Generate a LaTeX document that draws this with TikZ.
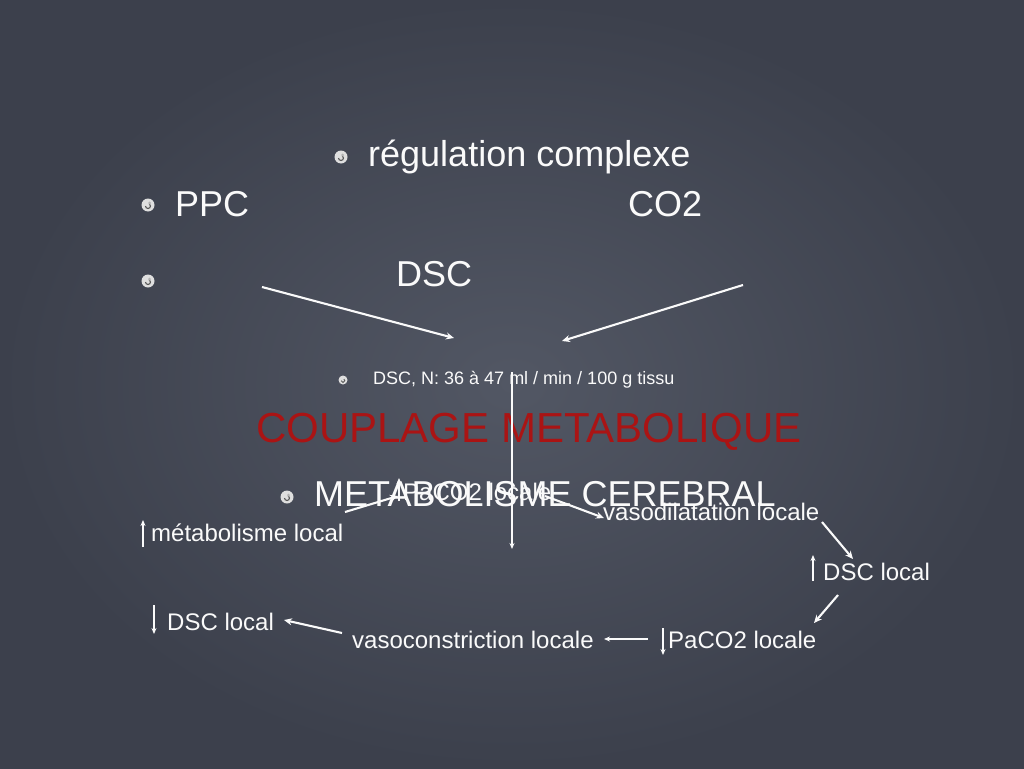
\documentclass[tikz,border=0pt]{standalone}
\usepackage{fontspec}
\setmainfont{Liberation Sans}
\usetikzlibrary{arrows.meta}
\definecolor{bgin}{RGB}{82,87,100}
\definecolor{bgout}{RGB}{60,64,76}
\definecolor{redtxt}{RGB}{170,20,20}
\definecolor{chalk}{RGB}{250,250,250}
\begin{document}
\begin{tikzpicture}[x=1pt,y=-1pt,
  txt/.style={inner sep=0pt, anchor=base west, text=chalk},
  big/.style={font=\fontsize{36}{40}\selectfont},
  mid/.style={font=\fontsize{24}{28}\selectfont},
  small/.style={font=\fontsize{18}{22}\selectfont},
  conn/.style={draw=chalk, line width=2.1pt, -{Stealth[length=8pt,width=7pt]}},
  updown/.style={draw=chalk, line width=1.4pt, -{Stealth[length=6pt,width=5pt]}},
  bul/.pic={\fill[gray!25] (0,0) circle (6.5);
            \draw[gray!70!black, line width=1.1pt] (-2.5,1) arc (180:-60:2.5);
            \fill[gray!60] (1.5,-2) circle (1.5);},
  sbul/.pic={\fill[gray!25] (0,0) circle (4.5);
            \draw[gray!70!black, line width=0.9pt] (-1.8,0.7) arc (180:-60:1.8);}]
\useasboundingbox (0,0) rectangle (1024,768);
\shade[inner color=bgin, outer color=bgout] (0,0) rectangle (1024,768);

% bullets
\pic at (341,157) {bul};
\pic at (148,205) {bul};
\pic at (148,281) {bul};
\pic at (343,380) {sbul};
\pic at (287,497) {bul};

% texts
\node[txt,big] (reg) at (368,166) {régulation complexe};
\node[txt,big] (ppc) at (175,216) {PPC};
\node[txt,big] (co2) at (628,216) {CO2};
\node[txt,big] (dsc) at (396,286) {DSC};
\node[txt,small] (norm) at (373,384) {DSC, N: 36 à 47 ml / min / 100 g tissu};
\node[txt,text=redtxt,font=\fontsize{42}{46}\selectfont] (coup) at (256,442) {COUPLAGE METABOLIQUE};
\node[txt,big] (meta) at (314,506) {METABOLISME CEREBRAL};
\node[txt,mid] (paup) at (403,500) {PaCO2 locale};
\node[txt,mid] (mloc) at (151,541) {métabolisme local};
\node[txt,mid] (vdil) at (603,520) {vasodilatation locale};
\node[txt,mid] (dscr) at (823,580) {DSC local};
\node[txt,mid] (pcb) at (668,648) {PaCO2 locale};
\node[txt,mid] (vcon) at (352,648) {vasoconstriction locale};
\node[txt,mid] (dscl) at (167,630) {DSC local};

% small up/down arrows that belong to the labels
\draw[updown] (143,547) -- (143,520);
\draw[updown] (399,501) -- (399,478);
\draw[updown] (813,581) -- (813,555);
\draw[updown] (663,628) -- (663,655);
\draw[updown] (154,605) -- (154,634);

% connector end points
\coordinate (l1s) at (262,287);
\coordinate (l1e) at (454,338);
\coordinate (r1s) at (743,285);
\coordinate (r1e) at (562,341);
\coordinate (vs) at (512,372);
\coordinate (ve) at (512,549);
\coordinate (m1) at (345,512);
\coordinate (m2) at (398,496);
\coordinate (p1) at (545,496);
\coordinate (p2) at (604,518);
\coordinate (d1) at (822,522);
\coordinate (d2) at (853,559);
\coordinate (e1) at (838,595);
\coordinate (e2) at (814,623);
\coordinate (f1) at (648,639);
\coordinate (f2) at (604,639);
\coordinate (g1) at (342,633);
\coordinate (g2) at (284,620);

\draw[conn] (l1s) -- (l1e);
\draw[conn] (r1s) -- (r1e);
\draw[updown] (vs) -- (ve);
\draw[conn] (m1) -- (m2);
\draw[conn] (p1) -- (p2);
\draw[conn] (d1) -- (d2);
\draw[conn] (e1) -- (e2);
\draw[updown] (f1) -- (f2);
\draw[conn] (g1) -- (g2);
\end{tikzpicture}
\end{document}
